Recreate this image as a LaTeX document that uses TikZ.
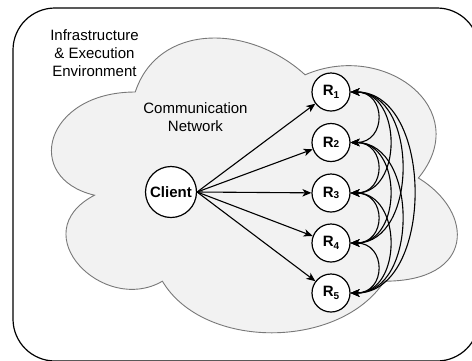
\documentclass[tikz,border=0pt]{standalone}
\usepackage{fontspec}
\setmainfont{Liberation Sans}
\usetikzlibrary{arrows.meta}
\tikzset{
  tip/.tip={Stealth[length=9pt,width=7.5pt,inset=2.5pt]},
  arr/.style={-tip, line width=1.1pt},
  biarr/.style={tip-tip, line width=1.1pt},
  rnode/.style={circle, draw, fill=white, line width=1.2pt, minimum size=38pt, inner sep=0pt, font=\fontsize{15}{18}\selectfont\bfseries},
  cnode/.style={circle, draw, fill=white, line width=1.2pt, minimum size=51pt, inner sep=0pt, font=\fontsize{15}{18}\selectfont\bfseries},
  lbl/.style={align=center, font=\fontsize{15}{18}\selectfont, inner sep=0pt},
}
\newcommand{\subd}[1]{\raisebox{-3pt}{\fontsize{10}{10}\selectfont\bfseries #1}}
\newcommand{\subu}[1]{\raisebox{-0.5pt}{\fontsize{10}{10}\selectfont\bfseries #1}}
\begin{document}
\begin{tikzpicture}[x=1pt,y=-1pt]
\useasboundingbox (0,0) rectangle (472,360);
\begin{scope}
\clip (0,0) rectangle (472,360);
% outer container
\draw[line width=1.2pt, rounded corners=42pt] (13,8) rectangle (479,361);
% cloud
\draw[fill={rgb,255:red,242;green,242;blue,242}, draw={rgb,255:red,120;green,120;blue,120}, line width=0.9pt]
  (135.25,92)
  .. controls (44.65,92) and (22,178) .. (94.5,195.2)
  .. controls (22,233) and (103.5,315.6) .. (162.4,281.2)
  .. controls (203.2,350) and (339.1,350) .. (384.4,281.2)
  .. controls (475,281.2) and (475,212.4) .. (418.4,178)
  .. controls (475,109.2) and (384.4,40.4) .. (305.1,74.8)
  .. controls (248.5,23.2) and (157.9,23.2) .. (135.25,92) -- cycle;
\end{scope}
% labels
\node[lbl] (infra) at (94.5,53) {Infrastructure\\\& Execution\\Environment};
\node[lbl] (comm) at (195.5,117) {Communication\\Network};
% nodes
\node[cnode] (c) at (171,192) {Client};
\node[rnode] (r1) at (331,92) {R\subd{1}};
\node[rnode] (r2) at (331,142.5) {R\subu{2}};
\node[rnode] (r3) at (331,193) {R\subu{3}};
\node[rnode] (r4) at (331,243) {R\subd{4}};
\node[rnode] (r5) at (331,293) {R\subd{5}};
% client arrows
\foreach \r in {r1,r2,r3,r4,r5}
  \draw[arr] (c.east) -- (\r);
% replica interconnections
\draw[biarr] (r1.east) .. controls +(36,0) and +(36,0) .. (r2.east);
\draw[biarr] (r1.east) .. controls +(52,0) and +(52,0) .. (r3.east);
\draw[biarr] (r1.east) .. controls +(68,0) and +(68,0) .. (r4.east);
\draw[biarr] (r1.east) .. controls +(84,0) and +(84,0) .. (r5.east);
\draw[biarr] (r2.east) .. controls +(36,0) and +(36,0) .. (r3.east);
\draw[biarr] (r2.east) .. controls +(52,0) and +(52,0) .. (r4.east);
\draw[biarr] (r2.east) .. controls +(68,0) and +(68,0) .. (r5.east);
\draw[biarr] (r3.east) .. controls +(36,0) and +(36,0) .. (r4.east);
\draw[biarr] (r3.east) .. controls +(52,0) and +(52,0) .. (r5.east);
\draw[biarr] (r4.east) .. controls +(36,0) and +(36,0) .. (r5.east);
\end{tikzpicture}
\end{document}
